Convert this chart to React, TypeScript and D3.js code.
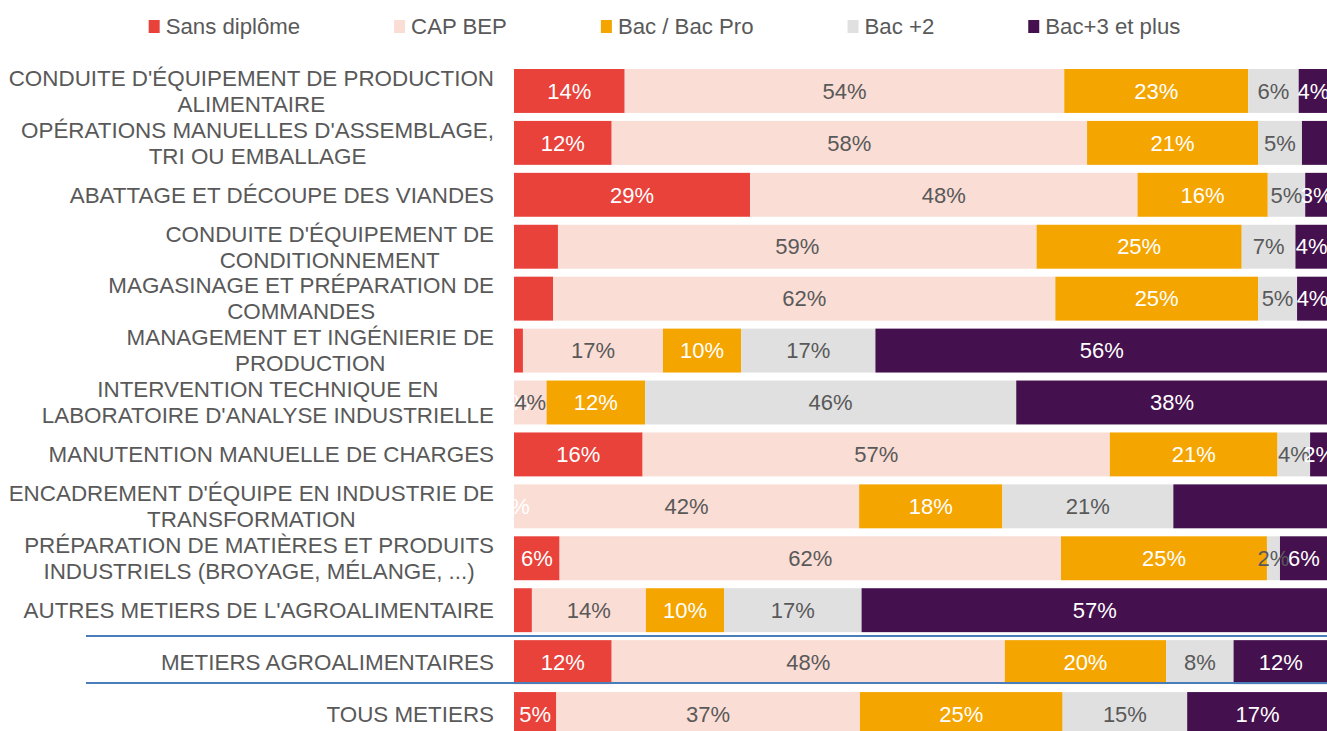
import React, { useEffect, useRef } from "react";
import * as d3 from "d3";

const categories = [
  ["CONDUITE D'ÉQUIPEMENT DE PRODUCTION", "ALIMENTAIRE"],
  ["OPÉRATIONS MANUELLES D'ASSEMBLAGE,", "TRI OU EMBALLAGE"],
  ["ABATTAGE ET DÉCOUPE DES VIANDES"],
  ["CONDUITE D'ÉQUIPEMENT DE", "CONDITIONNEMENT"],
  ["MAGASINAGE ET PRÉPARATION DE", "COMMANDES"],
  ["MANAGEMENT ET INGÉNIERIE DE", "PRODUCTION"],
  ["INTERVENTION TECHNIQUE EN", "LABORATOIRE D'ANALYSE INDUSTRIELLE"],
  ["MANUTENTION MANUELLE DE CHARGES"],
  ["ENCADREMENT D'ÉQUIPE EN INDUSTRIE DE", "TRANSFORMATION"],
  ["PRÉPARATION DE MATIÈRES ET PRODUITS", "INDUSTRIELS (BROYAGE, MÉLANGE, ...)"],
  ["AUTRES METIERS DE L'AGROALIMENTAIRE"],
  ["METIERS AGROALIMENTAIRES"],
  ["TOUS METIERS"],
];

const seriesNames = ["Sans diplôme", "CAP BEP", "Bac / Bac Pro", "Bac +2", "Bac+3 et plus"];
const seriesColors = ["#E8423B", "#FADDD5", "#F5A500", "#E0E0E0", "#45104E"];
const labelColors = ["#FFFFFF", "#595959", "#FFFFFF", "#595959", "#FFFFFF"];

const sansDiplome = [13.6, 12.0, 29.0, 5.4, 4.8, 1.1, 0, 15.8, 0, 5.6, 2.2, 12.0, 5.2];
const capBep = [54.0, 58.4, 47.6, 58.8, 61.7, 17.2, 4.0, 57.4, 42.4, 61.6, 14.0, 48.3, 37.3];
const bacPro = [22.6, 21.0, 16.0, 25.2, 24.9, 9.6, 12.1, 20.6, 17.6, 25.3, 9.6, 19.8, 24.9];
const bac2 = [6.2, 5.4, 4.6, 6.6, 4.8, 16.5, 45.6, 4.0, 21.0, 1.6, 16.9, 8.3, 15.3];
const bac3 = [3.6, 3.2, 2.8, 4.0, 3.8, 55.6, 38.3, 2.2, 19.0, 5.9, 57.3, 11.6, 17.3];

// [row, series] whose data label is not shown
const hiddenLabels = [[1, 4], [3, 0], [4, 0], [5, 0], [8, 4], [10, 0]];

const W = 1327;
const H = 731;
const FONT = "'Liberation Sans', Arial, sans-serif";
const GREY = "#595959";

export default function App() {
  const ref = useRef<SVGSVGElement>(null);

  useEffect(() => {
    const svg = d3.select(ref.current);
    svg.selectAll("*").remove();

    const allSeries = [sansDiplome, capBep, bacPro, bac2, bac3];
    const rows = categories.map((c, i) => {
      const o: any = { key: String(i) };
      allSeries.forEach((s, j) => (o["s" + j] = s[i]));
      return o;
    });
    const keys = allSeries.map((_, j) => "s" + j);
    const stacked = d3.stack().keys(keys)(rows);

    const x = d3.scaleLinear().domain([0, 100]).range([514, 1328]);
    const y = d3
      .scaleBand()
      .domain(categories.map((_, i) => String(i)))
      .range([65, 740])
      .paddingInner(0.154)
      .paddingOuter(0.077);

    // bars
    const g = svg.append("g");
    stacked.forEach((layer, j) => {
      g.selectAll(null)
        .data(layer)
        .enter()
        .append("rect")
        .attr("x", (d: any) => x(d[0]))
        .attr("y", (_d: any, i: number) => y(String(i))!)
        .attr("width", (d: any) => Math.max(0, x(d[1]) - x(d[0])))
        .attr("height", y.bandwidth())
        .attr("fill", seriesColors[j]);
    });

    // data labels
    const hidden = new Set(hiddenLabels.map(([r, s]) => r + "-" + s));
    const lg = svg.append("g").attr("font-family", FONT).attr("font-size", 22);
    stacked.forEach((layer, j) => {
      layer.forEach((d: any, i: number) => {
        if (hidden.has(i + "-" + j)) return;
        const v = d[1] - d[0];
        lg.append("text")
          .attr("x", (x(d[0]) + x(d[1])) / 2)
          .attr("y", y(String(i))! + y.bandwidth() / 2)
          .attr("dy", "0.35em")
          .attr("text-anchor", "middle")
          .attr("fill", labelColors[j])
          .text(Math.round(v) + "%");
      });
    });

    // category labels: block right-aligned, lines centered inside block
    const cg = svg.append("g").attr("font-family", FONT).attr("font-size", 22.4).attr("fill", GREY);
    const lineH = 26;
    categories.forEach((lines, i) => {
      const cy = y(String(i))! + y.bandwidth() / 2;
      const texts = lines.map((t, k) =>
        cg
          .append("text")
          .attr("y", cy + (k - (lines.length - 1) / 2) * lineH)
          .attr("dy", "0.35em")
          .attr("text-anchor", "middle")
          .text(t)
      );
      const widths = texts.map((t) => (t.node() as SVGTextElement).getComputedTextLength());
      const maxW = d3.max(widths) || 0;
      const cx = 494 - maxW / 2;
      texts.forEach((t) => t.attr("x", cx));
    });

    // separator lines
    const sepY = [636, 683];
    svg
      .append("g")
      .selectAll("line")
      .data(sepY)
      .enter()
      .append("line")
      .attr("x1", 86)
      .attr("x2", W)
      .attr("y1", (d) => d)
      .attr("y2", (d) => d)
      .attr("stroke", "#4A7EBB")
      .attr("stroke-width", 2);

    // legend
    const leg = svg.append("g").attr("font-family", FONT).attr("font-size", 22.2).attr("fill", GREY);
    const sw = 11;
    const textGap = 6;
    const itemGap = 94;
    const items = seriesNames.map((name, j) => {
      const gi = leg.append("g");
      gi.append("rect").attr("width", sw).attr("height", 13).attr("y", 20).attr("fill", seriesColors[j]);
      const t = gi
        .append("text")
        .attr("x", sw + textGap)
        .attr("y", 26)
        .attr("dy", "0.35em")
        .text(name);
      const w = (t.node() as SVGTextElement).getComputedTextLength();
      return { gi, w: sw + textGap + w };
    });
    const total = d3.sum(items, (d) => d.w) + itemGap * (items.length - 1);
    let cur = W / 2 - total / 2 + 1;
    items.forEach((it) => {
      it.gi.attr("transform", `translate(${cur},0)`);
      cur += it.w + itemGap;
    });
  }, []);

  return (
    <svg
      ref={ref}
      width={W}
      height={H}
      style={{ position: "absolute", left: 0, top: 0, background: "#fff" }}
    />
  );
}
